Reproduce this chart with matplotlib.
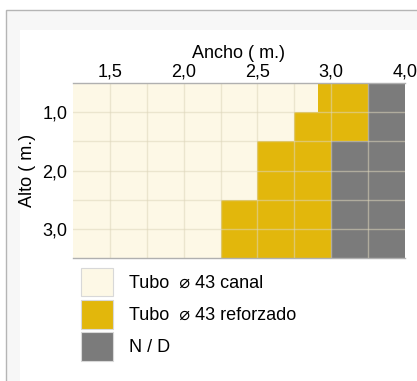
import matplotlib.pyplot as plt
from matplotlib.colors import ListedColormap
from matplotlib.patches import Patch, Rectangle
import numpy as np

plt.rcParams['font.family'] = ['Liberation Sans', 'DejaVu Sans']

# column edges (grid index), top row has a partial cell near 3,0
x_edges = [0, 1, 2, 3, 4, 5, 6, 6.65, 7, 8, 9]
y_edges = [0, 1, 2, 3, 4, 5, 6]
# 0 = canal, 1 = reforzado, 2 = N/D ; rows top to bottom
codes = [
    [0, 0, 0, 0, 0, 0, 0, 1, 1, 2],
    [0, 0, 0, 0, 0, 0, 1, 1, 1, 2],
    [0, 0, 0, 0, 0, 1, 1, 1, 2, 2],
    [0, 0, 0, 0, 0, 1, 1, 1, 2, 2],
    [0, 0, 0, 0, 1, 1, 1, 1, 2, 2],
    [0, 0, 0, 0, 1, 1, 1, 1, 2, 2],
]
x_ticks = [1, 3, 5, 7, 9]
x_labels = ['1,5', '2,0', '2,5', '3,0', '4,0']
y_ticks = [1, 3, 5]
y_labels = ['1,0', '2,0', '3,0']
legend_labels = ['Tubo  \u2300 43 canal', 'Tubo  \u2300 43 reforzado', 'N / D']
colors = ['#fdf8e6', '#e2b70c', '#7b7b7b']
fs = 13

fig = plt.figure(figsize=(4.17, 3.81), dpi=100)
fig.patches.append(Rectangle((6 / 417, -0.05), 1.0, 1 - 10 / 381 + 0.05,
                             transform=fig.transFigure, facecolor='#f7f7f7',
                             edgecolor='#b5b5b5', lw=1.0, zorder=-2))
fig.patches.append(Rectangle((20 / 417, -0.05), 1.0, 1 - 30 / 381 + 0.05,
                             transform=fig.transFigure, facecolor='white',
                             edgecolor='none', zorder=-1))

ax = fig.add_axes([73 / 417, 1 - 258 / 381, 332 / 417, 175 / 381])
ax.pcolormesh(x_edges, y_edges, np.array(codes), cmap=ListedColormap(colors),
              vmin=-0.5, vmax=2.5)
ax.set_xlim(0, 9)
ax.set_ylim(6, 0)

for i in range(1, 9):
    ax.axvline(i, color='#ddd6bb', lw=1.0, alpha=0.55)
for j in range(1, 6):
    ax.axhline(j, color='#ddd6bb', lw=1.0, alpha=0.55)

ax.xaxis.tick_top()
ax.xaxis.set_label_position('top')
ax.set_xticks(x_ticks)
ax.set_xticklabels(x_labels)
ax.set_yticks(y_ticks)
ax.set_yticklabels(y_labels)
ax.tick_params(axis='x', length=0, labelsize=fs, pad=2)
ax.tick_params(axis='y', length=0, labelsize=fs, pad=4)
ax.set_xlabel('Ancho ( m.)', fontsize=fs, labelpad=4)
ax.set_ylabel('Alto ( m.)', fontsize=fs, labelpad=5)
for side in ['left', 'right']:
    ax.spines[side].set_visible(False)
for side in ['top', 'bottom']:
    ax.spines[side].set_color('#b0b0b0')
    ax.spines[side].set_linewidth(1.0)

handles = [Patch(facecolor=c, edgecolor='#d8d8d8', lw=0.8) for c in colors]
fig.legend(handles, legend_labels, loc='upper left',
           bbox_to_anchor=(81 / 417, 1 - 268 / 381), frameon=False,
           fontsize=fs, handlelength=1.75, handleheight=2.05,
           handletextpad=0.9, labelspacing=0.2, borderpad=0,
           borderaxespad=0)

fig.savefig('out.png', dpi=100)
